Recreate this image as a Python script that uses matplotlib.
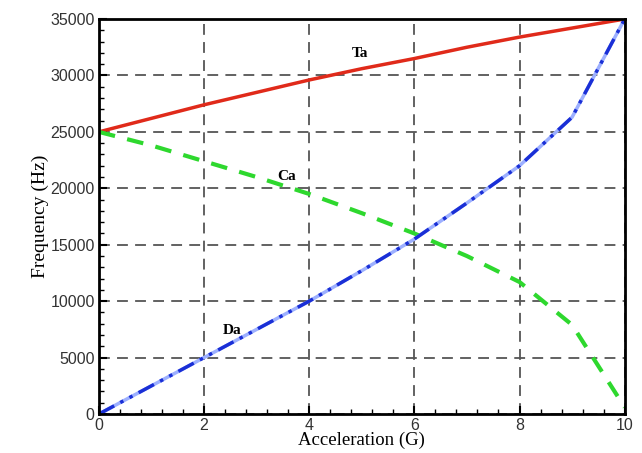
import matplotlib
matplotlib.use('Agg')
import matplotlib.pyplot as plt
from matplotlib.ticker import MultipleLocator

accel = [0, 1, 2, 3, 4, 5, 6, 7, 8, 9, 10]
ta = [25000, 26200, 27400, 28500, 29600, 30600, 31500, 32500, 33400, 34200, 35000]
ca = [25000, 23800, 22400, 21000, 19500, 17800, 16000, 14000, 11700, 7900, 600]
da = [0, 2500, 5000, 7500, 10000, 12700, 15500, 18700, 22000, 26300, 35000]

fig = plt.figure(figsize=(6.42, 4.53), dpi=100)
ax = fig.add_axes([0.154, 0.086, 0.819, 0.872])

ax.plot(accel, ta, color='#e02a1a', lw=2.5, solid_capstyle='butt')
ax.plot(accel, ca, color='#2ed82e', lw=3, dashes=(4, 3))
ax.plot(accel, da, color='#9db0ff', lw=2.5)
ax.plot(accel, da, color='#1a2fd6', lw=2.5, dashes=(5, 2, 1, 2, 1, 2))

ax.set_xlim(0, 10)
ax.set_ylim(0, 35000)
ax.xaxis.set_major_locator(MultipleLocator(2))
ax.xaxis.set_minor_locator(MultipleLocator(0.4))
ax.yaxis.set_major_locator(MultipleLocator(5000))
ax.yaxis.set_minor_locator(MultipleLocator(1000))
ax.tick_params(which='both', direction='in', labelsize=11.5, pad=3)
ax.tick_params(which='major', length=6, width=1.5)
ax.tick_params(which='minor', length=3.5, width=1)
for lab in ax.get_xticklabels() + ax.get_yticklabels():
    lab.set_family('Liberation Sans')
    lab.set_color('#333333')

ax.grid(True, which='major', color='#555555', lw=1.3, dashes=(6, 4))
for s in ax.spines.values():
    s.set_linewidth(2)

ax.set_xlabel('Acceleration (G)', family='Liberation Serif', fontsize=13.5, labelpad=-1)
ax.set_ylabel('Frequency (Hz)', family='Liberation Serif', fontsize=14, labelpad=1)

ax.text(4.8, 31600, 'Ta', family='Liberation Serif', weight='bold', fontsize=11)
ax.text(3.4, 20700, 'Ca', family='Liberation Serif', weight='bold', fontsize=11)
ax.text(2.35, 7100, 'Da', family='Liberation Serif', weight='bold', fontsize=11)

fig.savefig('out.png', dpi=100)
